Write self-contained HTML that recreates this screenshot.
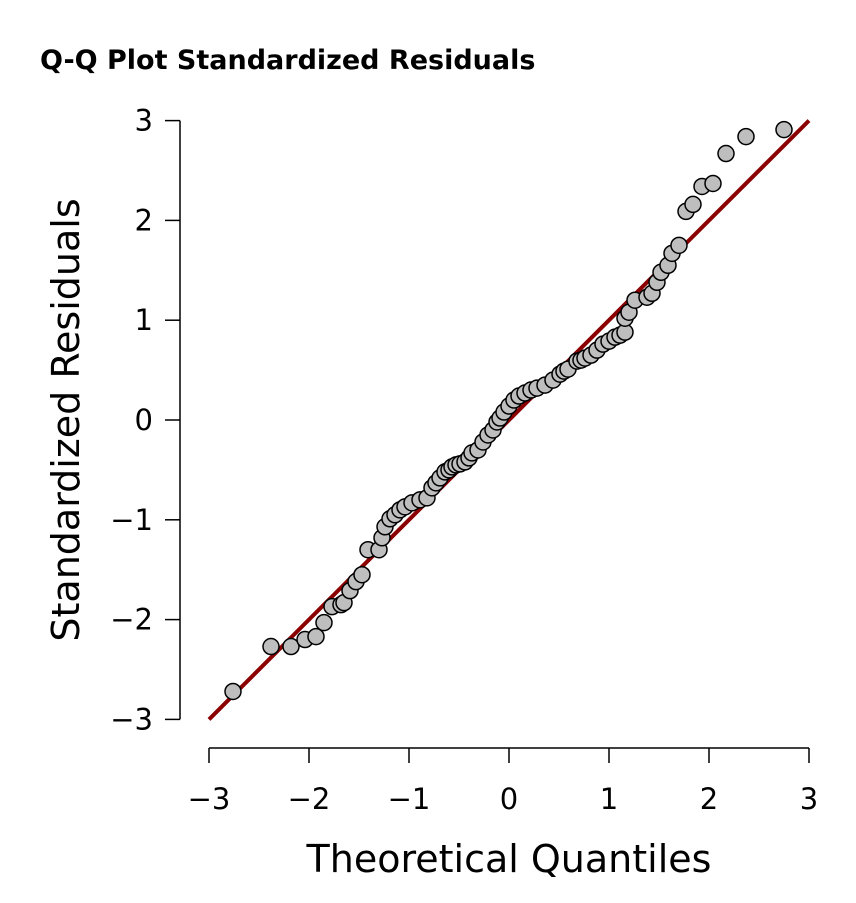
<!DOCTYPE html>
<html><head><meta charset="utf-8"><style>
body{margin:0;background:#fff}
svg text{font-family:"DejaVu Sans","Liberation Sans",sans-serif;fill:#000}
</style></head><body>
<svg id="chart" width="856" height="898">
<text x="40" y="69" font-size="27" font-weight="bold">Q-Q Plot Standardized Residuals</text>
<text transform="translate(79,420) rotate(-90)" text-anchor="middle" font-size="38">Standardized Residuals</text>
<text x="509" y="872" text-anchor="middle" font-size="38">Theoretical Quantiles</text>
<g id="axes"></g><g id="marks"></g>
</svg>
<script>
const xTicks=[-3,-2,-1,0,1,2,3];
const yTicks=[-3,-2,-1,0,1,2,3];
const theo=[-2.76,-2.38,-2.18,-2.04,-1.93,-1.85,-1.77,-1.68,-1.65,-1.59,-1.53,-1.47,-1.41,-1.30,-1.27,-1.24,-1.19,-1.14,-1.09,-1.04,-0.97,-0.89,-0.82,-0.77,-0.73,-0.69,-0.64,-0.60,-0.57,-0.53,-0.49,-0.44,-0.40,-0.37,-0.31,-0.26,-0.21,-0.16,-0.12,-0.09,-0.05,0,0.05,0.10,0.16,0.22,0.28,0.36,0.44,0.51,0.55,0.59,0.68,0.72,0.76,0.82,0.88,0.94,1.00,1.06,1.11,1.16,1.16,1.20,1.26,1.38,1.43,1.48,1.52,1.59,1.63,1.70,1.77,1.84,1.93,2.04,2.17,2.37,2.75];
const resid=[-2.72,-2.27,-2.27,-2.20,-2.17,-2.03,-1.87,-1.85,-1.83,-1.71,-1.62,-1.55,-1.30,-1.30,-1.18,-1.07,-0.99,-0.95,-0.90,-0.87,-0.83,-0.80,-0.78,-0.68,-0.63,-0.58,-0.52,-0.50,-0.47,-0.45,-0.44,-0.42,-0.38,-0.33,-0.30,-0.22,-0.15,-0.10,-0.02,0.02,0.08,0.14,0.20,0.24,0.27,0.30,0.32,0.35,0.40,0.46,0.49,0.51,0.59,0.60,0.62,0.65,0.70,0.76,0.79,0.83,0.85,0.88,1.02,1.08,1.20,1.23,1.27,1.38,1.48,1.55,1.67,1.75,2.09,2.16,2.34,2.37,2.67,2.84,2.91];
const ns="http://www.w3.org/2000/svg";
const sx=v=>509+v*100, sy=v=>420-v*99.8;
const axes=document.getElementById('axes'), marks=document.getElementById('marks');
function mk(p,tag,a){const e=document.createElementNS(ns,tag);for(const k in a)e.setAttribute(k,a[k]);p.appendChild(e);return e;}
let e=mk(axes,'line',{x1:180,x2:180,y1:sy(3),y2:sy(-3),stroke:'#000','stroke-width':1.5});


e=mk(axes,'line',{x1:sx(-3),x2:sx(3),y1:748,y2:748,stroke:'#000','stroke-width':1.5});


yTicks.forEach(t=>{
 let l=mk(axes,'line',{x1:165,x2:180,y1:sy(t),y2:sy(t),stroke:'#000','stroke-width':1.5});
 
 
 let tx=mk(axes,'text',{x:153,y:sy(t)+10,'text-anchor':'end','font-size':29});
 tx.textContent=(t<0?'\u2212'+(-t):t);
 
 
});
xTicks.forEach(t=>{
 let l=mk(axes,'line',{x1:sx(t),x2:sx(t),y1:748,y2:763,stroke:'#000','stroke-width':1.5});
 
 
 let tx=mk(axes,'text',{x:sx(t),y:809,'text-anchor':'middle','font-size':29});
 tx.textContent=(t<0?'\u2212'+(-t):t);
 
 
});
e=mk(marks,'line',{x1:sx(-3),y1:sy(-3),x2:sx(3),y2:sy(3),stroke:'#8b0000','stroke-width':4});


theo.forEach((v,i)=>{
 let c=mk(marks,'circle',{cx:sx(v),cy:sy(resid[i]),r:8,fill:'#bebebe',stroke:'#000','stroke-width':1.5});
 
 
});
</script>
</body></html>
